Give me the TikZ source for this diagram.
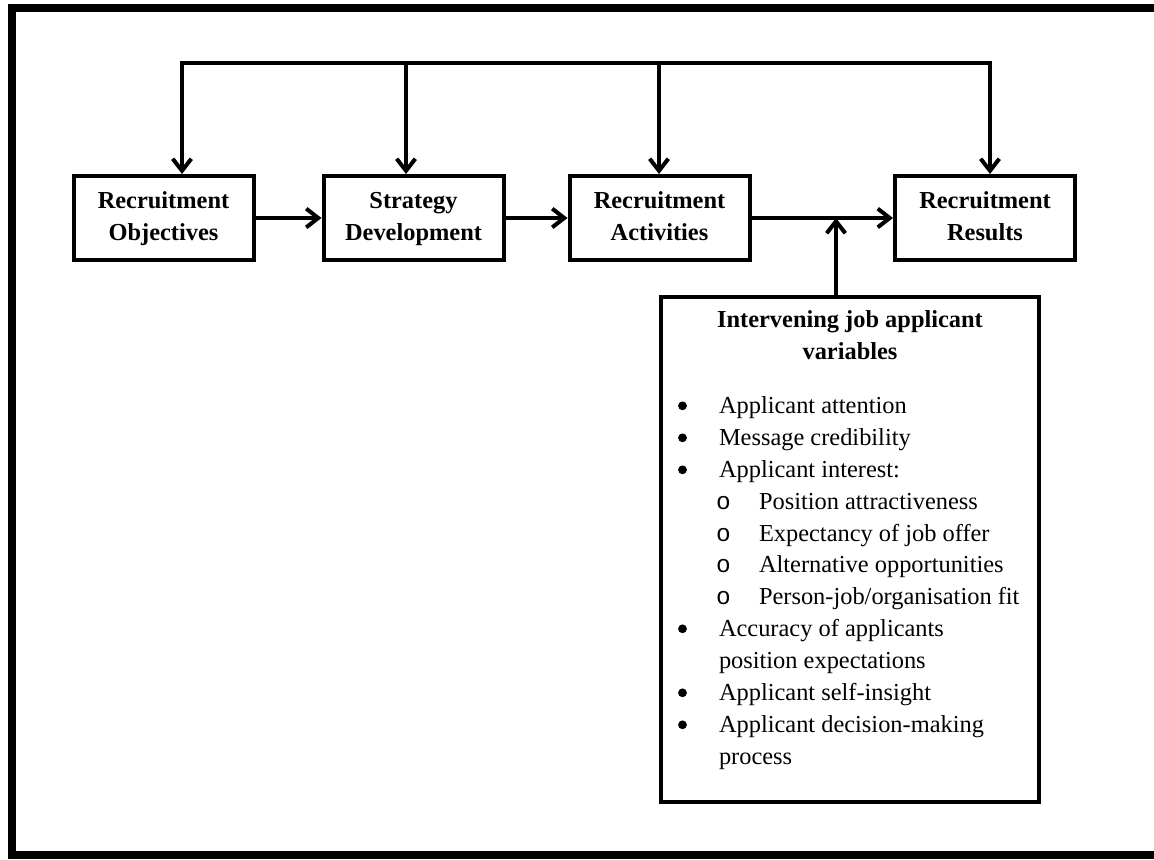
\documentclass[tikz,border=0pt]{standalone}
\usepackage{fontspec}
\setmainfont{Liberation Serif}
\newfontfamily\ringfont{Liberation Mono}
\usetikzlibrary{arrows.meta}
\newcommand\bodyfont{\fontsize{18.3}{24}\selectfont}
\newcommand\labfont{\fontsize{18.3}{24}\selectfont\bfseries}
\begin{document}
\begin{tikzpicture}[x=0.75pt,y=-0.75pt,line width=3pt,line join=miter,
  arr/.style={-{Straight Barb[length=9pt,width=14pt]}},
  arrs/.style={{Straight Barb[length=9pt,width=14pt]}-{Straight Barb[length=9pt,width=14pt]}},
  stage/.style={draw,line width=3pt,minimum width=135pt,minimum height=63pt,
    inner sep=0pt,align=center,font=\labfont},
  panel/.style={draw,line width=3pt,minimum width=284pt,minimum height=379pt,inner sep=0pt},
  head/.style={anchor=base,inner sep=0pt,font=\labfont},
  entry/.style={anchor=base west,inner sep=0pt,font=\bodyfont},
  dot/.style={circle,fill,draw=none,minimum size=6.6pt,inner sep=0pt,yshift=5.4pt},
  ring/.style={anchor=base,inner sep=0pt,font=\bodyfont\ringfont}]
\useasboundingbox (0,0) rectangle (1154,860);

% outer frame
\draw[line width=6pt] (12,8) rectangle (1175,855);

% process stages
\node[stage] (obj) at (163.5,218) {\strut Recruitment\\\strut Objectives};
\node[stage] (str) at (413.5,218) {\strut Strategy\\\strut Development};
\node[stage] (act) at (659.5,218) {\strut Recruitment\\\strut Activities};
\node[stage] (res) at (985,218) {\strut Recruitment\\\strut Results};

% feedback bus along the top
\coordinate (bus1) at (182,63);
\coordinate (bus2) at (406,63);
\coordinate (bus3) at (659,63);
\coordinate (bus4) at (990,63);
\draw[arrs] (bus1 |- obj.north) -- (bus1) -- (bus4) -- (bus4 |- res.north);
\draw[arr] (bus2) -- (bus2 |- str.north);
\draw[arr] (bus3) -- (bus3 |- act.north);

% forward flow
\draw[arr] (obj) -- (str);
\draw[arr] (str) -- (act);
\draw[arr] (act) -- (res);

% intervening variables panel
\node[panel] (vars) at (850,549.5) {};
\coordinate (join) at (836,218);
\draw[arr] (vars.north -| join) -- (join);

\node[head] (h1) at (850,327) {Intervening job applicant};
\node[head] (h2) at (850,359) {variables};

% bullets are drawn as filled dots placed from each line's baseline
\node[dot] (d1) at (682.5,413) {};
\node[entry] (e1) at (717,413) {Applicant attention};
\node[dot] (d2) at (682.5,445) {};
\node[entry] (e2) at (717,445) {Message credibility};
\node[dot] (d3) at (682.5,477) {};
\node[entry] (e3) at (717,477) {Applicant interest:};
\node[ring] (o1) at (723.5,509) {o};
\node[entry] (s1) at (757,509) {Position attractiveness};
\node[ring] (o2) at (723.5,541) {o};
\node[entry] (s2) at (757,541) {Expectancy of job offer};
\node[ring] (o3) at (723.5,572) {o};
\node[entry] (s3) at (757,572) {Alternative opportunities};
\node[ring] (o4) at (723.5,604) {o};
\node[entry] (s4) at (757,604) {Person-job/organisation fit};
\node[dot] (d4) at (682.5,636) {};
\node[entry] (e4) at (717,636) {Accuracy of applicants};
\node[entry] (e4b) at (717,668) {position expectations};
\node[dot] (d5) at (682.5,700) {};
\node[entry] (e5) at (717,700) {Applicant self-insight};
\node[dot] (d6) at (682.5,732) {};
\node[entry] (e6) at (717,732) {Applicant decision-making};
\node[entry] (e6b) at (717,764) {process};
\end{tikzpicture}
\end{document}
